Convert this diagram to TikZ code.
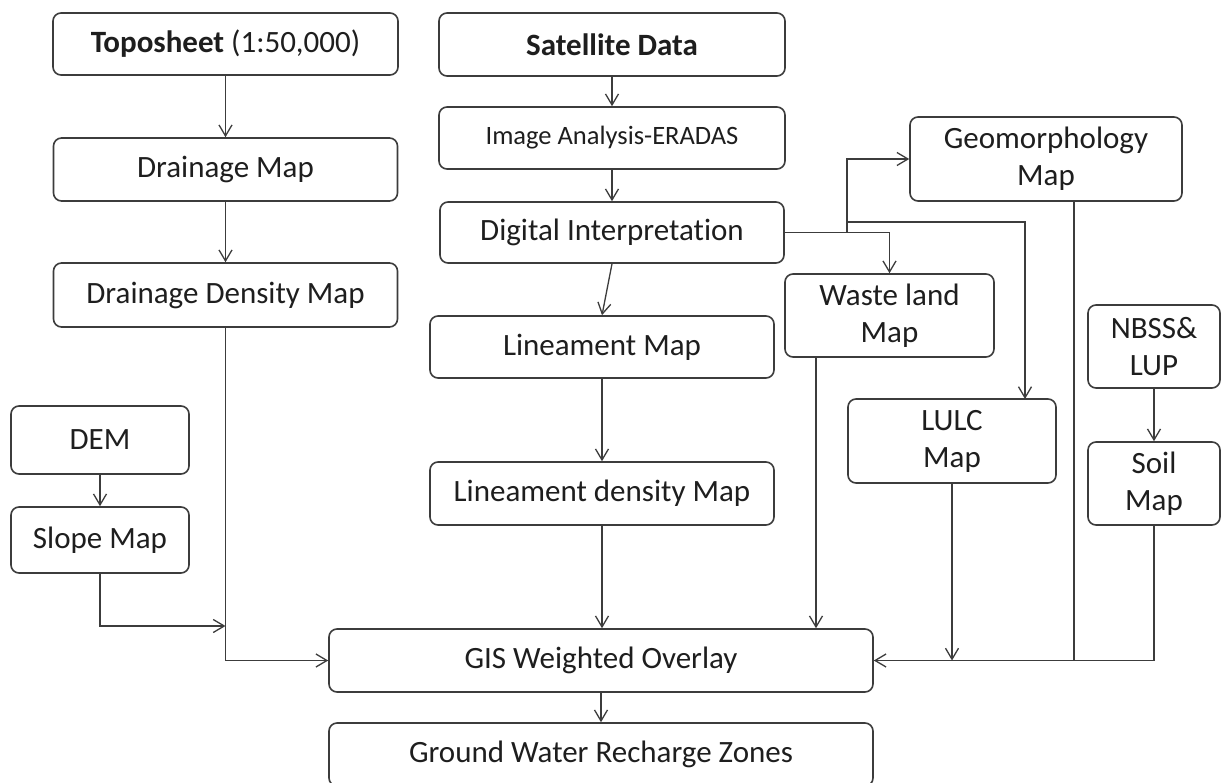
\documentclass[tikz,border=0pt]{standalone}
\usepackage{fontspec}
\setmainfont{Carlito}[Ligatures=NoCommon]
\usetikzlibrary{arrows.meta}
\definecolor{edge}{HTML}{3C3C3C}
\definecolor{ink}{HTML}{1E1E1E}
\tikzset{
  box/.style={draw=edge, line width=1.6pt, rounded corners=8pt, inner sep=0pt,
    text=ink, align=center, font=\fontsize{31pt}{37pt}\selectfont},
  smallfont/.style={font=\fontsize{26.5pt}{32pt}\selectfont},
  conn/.style={draw=edge, line width=1.3pt},
  arr/.style={conn, -{Straight Barb[length=11pt,width=13pt,line width=1.3pt]}},
}
\begin{document}
\begin{tikzpicture}[x=1pt,y=-1pt]
\useasboundingbox (0,0) rectangle (1221,782);
\clip (0,0) rectangle (1221,782);
\fill[white] (0,0) rectangle (1221,782);

% left column
\node[box, minimum width=345pt, minimum height=62pt] (topo) at (225.5,44) {\textbf{Toposheet} (1:50,000)};
\node[box, minimum width=344pt, minimum height=63pt] (drain) at (225.5,169.5) {Drainage Map};
\node[box, minimum width=344pt, minimum height=64pt] (ddens) at (225.5,295) {Drainage Density Map};
\node[box, minimum width=178pt, minimum height=68pt] (dem) at (100,440) {DEM};
\node[box, minimum width=178pt, minimum height=66pt] (slope) at (100,540) {Slope Map};

% middle column
\node[box, minimum width=346pt, minimum height=63pt] (sat) at (612,44.5) {\textbf{Satellite Data}};
\node[box, smallfont, minimum width=346pt, minimum height=62pt] (img) at (612,138) {Image Analysis-ERADAS};
\node[box, minimum width=344pt, minimum height=61pt] (dig) at (612,232.5) {Digital Interpretation};
\node[box, minimum width=344pt, minimum height=62pt] (lin) at (602,347) {Lineament Map};
\node[box, minimum width=344pt, minimum height=63pt] (lind) at (602,493.5) {Lineament density Map};
\node[box, minimum width=544pt, minimum height=63pt] (gis) at (601,660.5) {GIS Weighted Overlay};
\node[box, minimum width=544pt, minimum height=63pt] (gw) at (601,754.5) {Ground Water Recharge Zones};

% right side
\node[box, minimum width=272pt, minimum height=84pt] (geo) at (1046,159) {Geomorphology\\Map};
\node[box, minimum width=209pt, minimum height=83pt] (waste) at (889.5,315.5) {Waste land\\Map};
\node[box, minimum width=208pt, minimum height=84pt] (lulc) at (952,441) {LULC\\Map};
\node[box, minimum width=132pt, minimum height=83pt] (nbss) at (1154,346.5) {NBSS\&\\LUP};
\node[box, minimum width=132pt, minimum height=83pt] (soil) at (1154,483.5) {Soil\\Map};

% junction coordinates
\coordinate (j1) at (ddens.south |- 0,626);
\coordinate (j2) at (847,232.5);
\coordinate (j3) at (847,222);
\coordinate (lulcin) at (1025,399);
\coordinate (geodown) at (1074,201);
\coordinate (wastedown) at (816,357);
\coordinate (busR) at (soil.south |- gis.east);

% left connectors
\draw[arr] (topo.south) -- (drain.north);
\draw[arr] (drain.south) -- (ddens.north);
\draw[arr] (ddens.south) |- (gis.west);
\draw[arr] (dem.south) -- (slope.north);
\draw[arr] (slope.south) |- (j1);

% middle connectors
\draw[arr] (sat.south) -- (img.north);
\draw[arr] (img.south) -- (dig.north);
\draw[arr] (dig.south) -- (lin.north);
\draw[arr] (lin.south) -- (lind.north);
\draw[arr] (lind.south) -- (lind.south |- gis.north);
\draw[arr] (gis.south) -- (gw.north);

% right connectors
\draw[arr] (dig.east) -| (waste.north);
\draw[arr] (j2) |- (geo.west);
\draw[arr] (j3) -| (lulcin);
\draw[arr] (wastedown) -- (wastedown |- gis.north);
\draw[arr] (lulc.south) -- (lulc.south |- gis.east);
\draw[conn] (geodown) -- (geodown |- gis.east);
\draw[arr] (nbss.south) -- (soil.north);
\draw[arr] (soil.south) -- (busR) -- (gis.east);
\end{tikzpicture}
\end{document}
